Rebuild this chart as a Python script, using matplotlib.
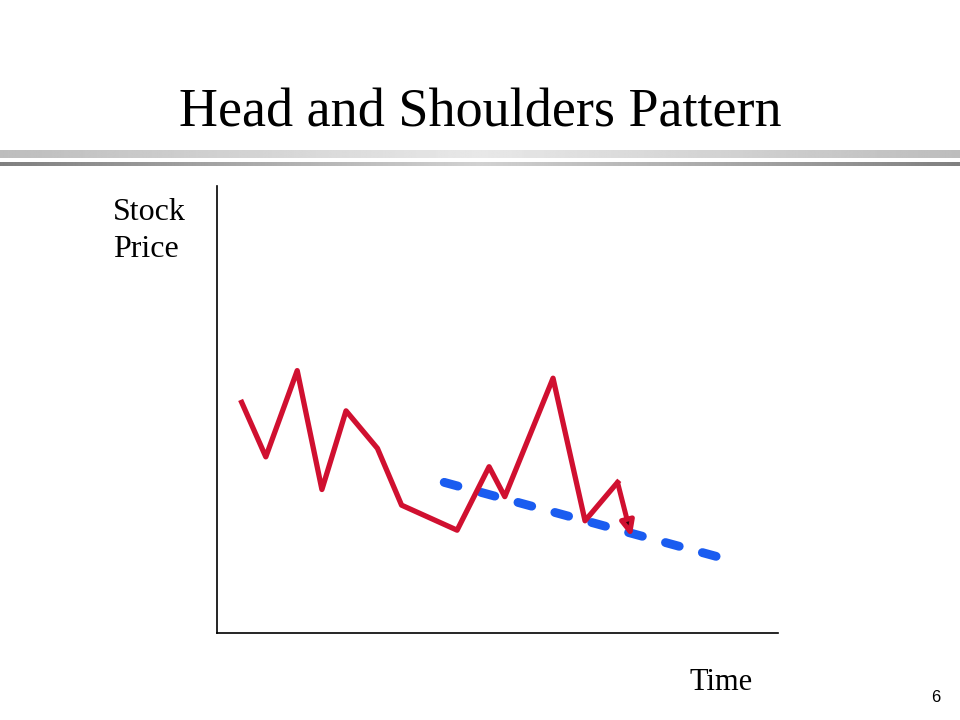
import matplotlib
matplotlib.use("Agg")
import matplotlib.pyplot as plt
import numpy as np

# Data, time 0..100, price 0..100
time = [4.4, 8.7, 14.3, 18.7, 23.0, 28.6, 32.9, 42.8, 48.5, 51.3, 59.9, 65.6, 71.4]
price = [51.6, 39.4, 58.7, 32.1, 49.7, 41.3, 28.6, 23.0, 37.2, 30.5, 57.0, 25.1, 33.7]
arrow_end = (73.9, 21.4)
neck_time = [40.5, 89.7]
neck_price = [33.7, 16.9]

title = "Head and Shoulders Pattern"
ylabel = "Stock\nPrice"
xlabel = "Time"
page = "6"

RED = "#d01030"
BLUE = "#1a5cf0"

fig = plt.figure(figsize=(9.6, 7.2), dpi=100)
W, H = 960, 720

# decorative bars under the title
def grad_bar(y0, y1, cedge, ccenter):
    bax = fig.add_axes([0, 1 - y1 / H, 1, (y1 - y0) / H])
    xs = np.linspace(-1, 1, 400)
    v = cedge + (ccenter - cedge) * (1 - np.abs(xs))
    img = np.tile(v, (2, 1))
    bax.imshow(img, cmap="gray", vmin=0, vmax=1, aspect="auto", interpolation="bilinear")
    bax.axis("off")

grad_bar(150, 158, 0.74, 0.91)
grad_bar(162, 166, 0.50, 0.82)

fig.text(480 / W, 1 - 113 / H, title, ha="center", va="center",
         family="Liberation Serif", fontsize=39)

# main axes
x0, x1, yt, yb = 217, 778, 186, 633
ax = fig.add_axes([x0 / W, 1 - yb / H, (x1 - x0) / W, (yb - yt) / H])
ax.set_xlim(0, 100)
ax.set_ylim(0, 100)
for s in ["top", "right"]:
    ax.spines[s].set_visible(False)
for s in ["left", "bottom"]:
    ax.spines[s].set_linewidth(1.2)
ax.set_xticks([])
ax.set_yticks([])

ax.plot(neck_time, neck_price, color=BLUE, lw=6.4, linestyle=(0, (1.6, 2.7)),
        dash_capstyle="round", solid_capstyle="round", zorder=2)
ax.plot(time, price, color=RED, lw=3.8, solid_joinstyle="round", zorder=3)
ax.annotate("", xy=arrow_end, xytext=(time[-1], price[-1]),
            arrowprops=dict(arrowstyle="-|>,head_length=0.9,head_width=0.4",
                            color=RED, lw=3.6, fc="#300008", ec=RED,
                            shrinkA=0, shrinkB=0), zorder=4)

fig.text(113 / W, 1 - 231 / H, ylabel, ha="left", va="center",
         family="Liberation Serif", fontsize=23, linespacing=1.32)
fig.text(689 / W, 1 - 682 / H, xlabel, ha="left", va="center",
         family="Liberation Serif", fontsize=22)
fig.text(936 / W, 1 - 697 / H, page, ha="center", va="center",
         family="Liberation Sans", fontsize=12)

fig.savefig("out.png", dpi=100)
